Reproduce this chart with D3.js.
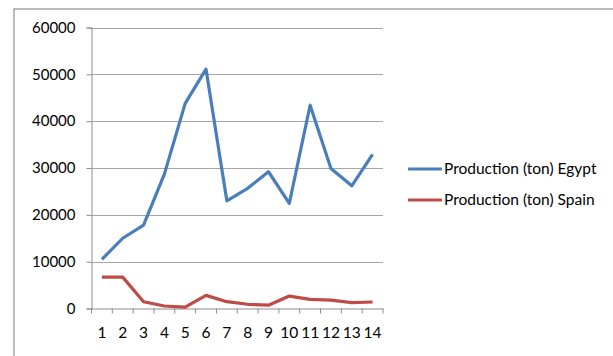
<!DOCTYPE html>
<html>
<head>
<meta charset="utf-8">
<script src="https://cdn.jsdelivr.net/npm/d3@7"></script>
<style>
  html, body { margin: 0; padding: 0; background: #fff; }
  svg { display: block; }
  text { font-family: Lato, "Open Sans", sans-serif; fill: #000; }
</style>
</head>
<body>
<script>
// Year index along the category axis
const periods = [1, 2, 3, 4, 5, 6, 7, 8, 9, 10, 11, 12, 13, 14];
// Production in tonnes
const egypt = [10500, 15000, 17800, 28700, 43800, 51100, 23000, 25650, 29200, 22450, 43400, 29900, 26200, 32900];
const spain = [6700, 6700, 1450, 530, 300, 2800, 1450, 900, 700, 2650, 1950, 1800, 1240, 1390];
const seriesNames = ["Production (ton) Egypt", "Production (ton) Spain"];
const yTicks = [0, 10000, 20000, 30000, 40000, 50000, 60000];

const W = 613, H = 356;
const plot = { left: 91.5, right: 383, top: 27.5, bottom: 308.5 };
const colors = ["#4a7ebb", "#be4b48"];

const svg = d3.select("body").append("svg").attr("width", W).attr("height", H);

// Outer chart frame
svg.append("rect")
  .attr("x", 14).attr("y", 9)
  .attr("width", W + 20).attr("height", H + 20)
  .attr("fill", "none").attr("stroke", "#8c8c8c").attr("stroke-width", 1.2);

const x = d3.scaleBand().domain(periods).range([plot.left, plot.right]);
const y = d3.scaleLinear().domain([0, 60000]).range([plot.bottom, plot.top]);

// Horizontal gridlines
svg.append("g").selectAll("line").data(yTicks.filter(d => d > 0)).join("line")
  .attr("x1", plot.left).attr("x2", plot.right)
  .attr("y1", d => Math.round(y(d)) + 0.5).attr("y2", d => Math.round(y(d)) + 0.5)
  .attr("stroke", "#a6a6a6").attr("stroke-width", 1);

// Value axis
const yAxis = svg.append("g")
  .attr("transform", `translate(${plot.left},0)`)
  .call(d3.axisLeft(y).tickValues(yTicks).tickSize(5).tickPadding(11).tickFormat(d3.format("d")));
yAxis.select(".domain").attr("stroke", "#8c8c8c");
yAxis.selectAll(".tick line").attr("stroke", "#8c8c8c");
yAxis.selectAll("text").attr("font-size", 15).attr("fill", "#000");

// Category axis
const xAxis = svg.append("g")
  .attr("transform", `translate(0,${plot.bottom})`)
  .call(d3.axisBottom(x).tickSize(0).tickPadding(18));
xAxis.select(".domain").attr("stroke", "#8c8c8c");
xAxis.selectAll("text").attr("font-size", 15.5).attr("fill", "#000");
// Tick marks between categories
svg.append("g").selectAll("line")
  .data(periods.map(p => x(p)).concat([plot.right]))
  .join("line")
  .attr("x1", d => d).attr("x2", d => d)
  .attr("y1", plot.bottom).attr("y2", plot.bottom + 5)
  .attr("stroke", "#8c8c8c");

// Series lines
const line = d3.line()
  .x((d, i) => x(periods[i]) + x.bandwidth() / 2)
  .y(d => y(d));

[egypt, spain].forEach((vals, k) => {
  svg.append("path")
    .datum(vals)
    .attr("d", line)
    .attr("fill", "none")
    .attr("stroke", colors[k])
    .attr("stroke-width", 3.2)
    .attr("stroke-linejoin", "round");
});

// Legend
const legend = svg.append("g");
seriesNames.forEach((name, k) => {
  const ly = 169 + k * 31;
  legend.append("line")
    .attr("x1", 408).attr("x2", 442)
    .attr("y1", ly).attr("y2", ly)
    .attr("stroke", colors[k]).attr("stroke-width", 3.2);
  legend.append("text")
    .attr("x", 444).attr("y", ly)
    .attr("dy", "0.35em")
    .attr("font-size", 15.5)
    .text(name);
});
</script>
</body>
</html>
